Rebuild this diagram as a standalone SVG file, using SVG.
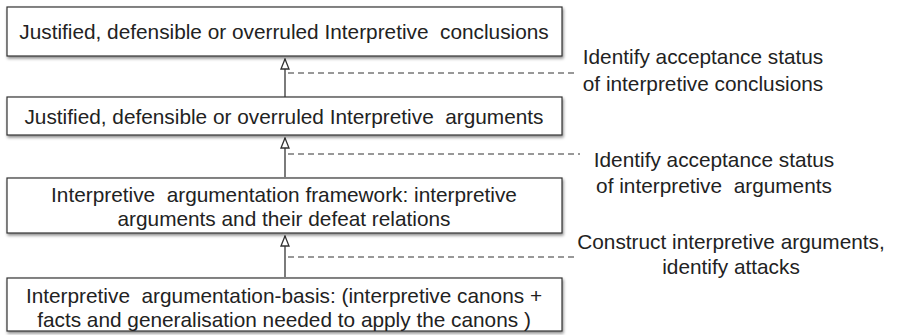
<svg xmlns="http://www.w3.org/2000/svg" width="897" height="335" viewBox="0 0 897 335">
<defs>
<filter id="sh" x="-5%" y="-20%" width="110%" height="150%">
<feDropShadow dx="1" dy="2" stdDeviation="1.5" flood-color="#000" flood-opacity="0.45"/>
</filter>
<marker id="tri" markerWidth="12" markerHeight="10" refX="10" refY="4" orient="auto" markerUnits="userSpaceOnUse" viewBox="-1 -1 12 10">
<path d="M0,0 L10,4 L0,8 Z" fill="#fff" stroke="#333" stroke-width="1.3"/>
</marker>
</defs>
<style>
.box{fill:#fff;stroke:#333;stroke-width:1.2;filter:url(#sh)}
.t{font-family:"Liberation Sans",Arial,Helvetica,sans-serif;font-size:20.8px;fill:#222;text-anchor:middle;white-space:pre}
.arr{stroke:#444;stroke-width:1.4;fill:none}
.dash{stroke:#333;stroke-width:1.1;stroke-dasharray:6,4;fill:none}
</style>
<g id="connectors">
<line class="arr" x1="285" y1="97" x2="285" y2="59" marker-end="url(#tri)"/>
<line class="arr" x1="285" y1="177" x2="285" y2="138" marker-end="url(#tri)"/>
<line class="arr" x1="285" y1="277" x2="285" y2="236" marker-end="url(#tri)"/>
<line class="dash" x1="288" y1="73" x2="577" y2="73"/>
<line class="dash" x1="288" y1="154" x2="580" y2="154"/>
<line class="dash" x1="288" y1="257" x2="577" y2="257"/>
</g>
<g id="box1">
<rect class="box" x="7" y="7" width="555" height="49"/>
<text class="t" x="284" y="39" xml:space="preserve">Justified, defensible or overruled Interpretive  conclusions</text>
</g>
<g id="box2">
<rect class="box" x="7" y="97" width="555" height="38"/>
<text class="t" x="284" y="124" xml:space="preserve">Justified, defensible or overruled Interpretive  arguments</text>
</g>
<g id="box3">
<rect class="box" x="7" y="178" width="555" height="55"/>
<text class="t" x="284" y="202" xml:space="preserve">Interpretive  argumentation framework: interpretive</text>
<text class="t" x="284" y="226">arguments and their defeat relations</text>
</g>
<g id="box4">
<rect class="box" x="7" y="278" width="555" height="53"/>
<text class="t" x="284" y="303" xml:space="preserve">Interpretive  argumentation-basis: (interpretive canons +</text>
<text class="t" x="284" y="327">facts and generalisation needed to apply the canons )</text>
</g>
<g id="label1">
<text class="t" x="703" y="64">Identify acceptance status</text>
<text class="t" x="703" y="91">of interpretive conclusions</text>
</g>
<g id="label2">
<text class="t" x="714" y="167">Identify acceptance status</text>
<text class="t" x="714" y="193" xml:space="preserve">of interpretive  arguments</text>
</g>
<g id="label3">
<text class="t" x="731" y="249">Construct interpretive arguments,</text>
<text class="t" x="731" y="274">identify attacks</text>
</g>
</svg>
